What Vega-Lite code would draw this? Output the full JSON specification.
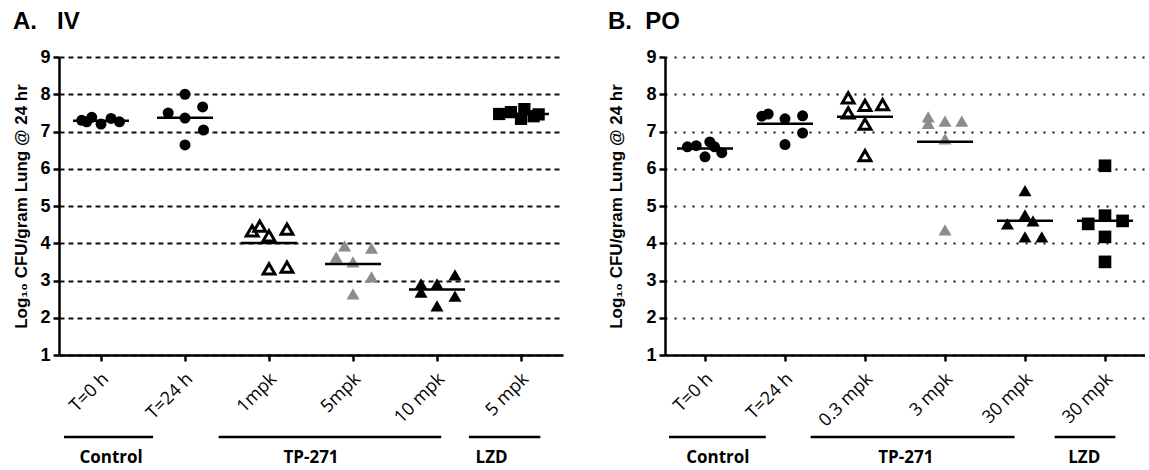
{
  "$schema": "https://vega.github.io/schema/vega-lite/v6.json",
  "background": "white",
  "padding": {"left": 12, "top": 10, "right": 0, "bottom": 0},
  "bounds": "flush",
  "spacing": 102,
  "datasets": {
    "iv": [
      {"cat": "Control|T=0 h", "slot": -1.15, "cfu": 7.3},
      {"cat": "Control|T=0 h", "slot": -0.85, "cfu": 7.26},
      {"cat": "Control|T=0 h", "slot": -0.55, "cfu": 7.38},
      {"cat": "Control|T=0 h", "slot": 0, "cfu": 7.2},
      {"cat": "Control|T=0 h", "slot": 0.6, "cfu": 7.35},
      {"cat": "Control|T=0 h", "slot": 1.1, "cfu": 7.26},
      {"cat": "Control|T=24 h", "slot": -1, "cfu": 7.5},
      {"cat": "Control|T=24 h", "slot": 0, "cfu": 8.0},
      {"cat": "Control|T=24 h", "slot": 0, "cfu": 7.36},
      {"cat": "Control|T=24 h", "slot": 1.05, "cfu": 7.66},
      {"cat": "Control|T=24 h", "slot": 1.1, "cfu": 7.04},
      {"cat": "Control|T=24 h", "slot": 0, "cfu": 6.64},
      {"cat": "TP-271|1mpk", "slot": -1, "cfu": 4.33},
      {"cat": "TP-271|1mpk", "slot": -0.55, "cfu": 4.46},
      {"cat": "TP-271|1mpk", "slot": 0, "cfu": 4.2},
      {"cat": "TP-271|1mpk", "slot": 1.07, "cfu": 4.38},
      {"cat": "TP-271|1mpk", "slot": 0, "cfu": 3.31},
      {"cat": "TP-271|1mpk", "slot": 1.07, "cfu": 3.36},
      {"cat": "TP-271|5mpk", "slot": -1, "cfu": 3.63},
      {"cat": "TP-271|5mpk", "slot": -0.5, "cfu": 3.93},
      {"cat": "TP-271|5mpk", "slot": 0, "cfu": 3.5},
      {"cat": "TP-271|5mpk", "slot": 1.1, "cfu": 3.87},
      {"cat": "TP-271|5mpk", "slot": 1.1, "cfu": 3.1},
      {"cat": "TP-271|5mpk", "slot": 0, "cfu": 2.64},
      {"cat": "TP-271|10 mpk", "slot": -0.95, "cfu": 2.91},
      {"cat": "TP-271|10 mpk", "slot": -0.95, "cfu": 2.69},
      {"cat": "TP-271|10 mpk", "slot": 0, "cfu": 2.91},
      {"cat": "TP-271|10 mpk", "slot": 1.07, "cfu": 3.15},
      {"cat": "TP-271|10 mpk", "slot": 1.07, "cfu": 2.58},
      {"cat": "TP-271|10 mpk", "slot": 0, "cfu": 2.32},
      {"cat": "LZD|5 mpk", "slot": -1.3, "cfu": 7.47},
      {"cat": "LZD|5 mpk", "slot": -0.6, "cfu": 7.52},
      {"cat": "LZD|5 mpk", "slot": 0.2, "cfu": 7.6},
      {"cat": "LZD|5 mpk", "slot": 0, "cfu": 7.34},
      {"cat": "LZD|5 mpk", "slot": 0.75, "cfu": 7.41},
      {"cat": "LZD|5 mpk", "slot": 1.05, "cfu": 7.46}
    ],
    "po": [
      {"cat": "Control|T=0 h", "slot": -1.1, "cfu": 6.59},
      {"cat": "Control|T=0 h", "slot": -0.55, "cfu": 6.62},
      {"cat": "Control|T=0 h", "slot": 0, "cfu": 6.32},
      {"cat": "Control|T=0 h", "slot": 0.3, "cfu": 6.72},
      {"cat": "Control|T=0 h", "slot": 0.6, "cfu": 6.59},
      {"cat": "Control|T=0 h", "slot": 1.05, "cfu": 6.43},
      {"cat": "Control|T=24 h", "slot": -1.45, "cfu": 7.41},
      {"cat": "Control|T=24 h", "slot": -1.05, "cfu": 7.47},
      {"cat": "Control|T=24 h", "slot": 0, "cfu": 7.34},
      {"cat": "Control|T=24 h", "slot": 1.1, "cfu": 7.42},
      {"cat": "Control|T=24 h", "slot": 1.1, "cfu": 6.96},
      {"cat": "Control|T=24 h", "slot": 0, "cfu": 6.65},
      {"cat": "TP-271|0.3 mpk", "slot": -1.05, "cfu": 7.9},
      {"cat": "TP-271|0.3 mpk", "slot": -1.05, "cfu": 7.5},
      {"cat": "TP-271|0.3 mpk", "slot": 0, "cfu": 7.7},
      {"cat": "TP-271|0.3 mpk", "slot": 1.1, "cfu": 7.72},
      {"cat": "TP-271|0.3 mpk", "slot": 0, "cfu": 7.2},
      {"cat": "TP-271|0.3 mpk", "slot": 0, "cfu": 6.35},
      {"cat": "TP-271|3 mpk", "slot": -1.05, "cfu": 7.39},
      {"cat": "TP-271|3 mpk", "slot": -1.05, "cfu": 7.22},
      {"cat": "TP-271|3 mpk", "slot": 0, "cfu": 7.28},
      {"cat": "TP-271|3 mpk", "slot": 1.05, "cfu": 7.28},
      {"cat": "TP-271|3 mpk", "slot": 0, "cfu": 6.8},
      {"cat": "TP-271|3 mpk", "slot": 0, "cfu": 4.36},
      {"cat": "TP-271|30 mpk", "slot": -1.1, "cfu": 4.52},
      {"cat": "TP-271|30 mpk", "slot": 0, "cfu": 5.41},
      {"cat": "TP-271|30 mpk", "slot": 0, "cfu": 4.76},
      {"cat": "TP-271|30 mpk", "slot": 0.5, "cfu": 4.6},
      {"cat": "TP-271|30 mpk", "slot": 0, "cfu": 4.17},
      {"cat": "TP-271|30 mpk", "slot": 1.05, "cfu": 4.17},
      {"cat": "LZD|30 mpk", "slot": 0, "cfu": 6.08},
      {"cat": "LZD|30 mpk", "slot": -1.05, "cfu": 4.52},
      {"cat": "LZD|30 mpk", "slot": 0, "cfu": 4.74},
      {"cat": "LZD|30 mpk", "slot": 1.1, "cfu": 4.6},
      {"cat": "LZD|30 mpk", "slot": 0, "cfu": 4.17},
      {"cat": "LZD|30 mpk", "slot": 0, "cfu": 3.5}
    ],
    "ivBr": [
      {"label": "Control", "start": 0.06, "end": 1.12, "mid": 0.62},
      {"label": "TP-271", "start": 1.9, "end": 4.55, "mid": 3.0},
      {"label": "LZD", "start": 4.88, "end": 5.73, "mid": 5.15}
    ],
    "poBr": [
      {"label": "Control", "start": 0.05, "end": 1.26, "mid": 0.66},
      {"label": "TP-271", "start": 1.82, "end": 4.37, "mid": 3.01},
      {"label": "LZD", "start": 4.87, "end": 5.63, "mid": 5.24}
    ]
  },
  "config": {
    "view": {"stroke": null},
    "font": "Liberation Sans",
    "title": {"font": "Liberation Sans", "fontSize": 24, "fontWeight": "bold", "color": "black"},
    "axis": {"domainColor": "black", "domainWidth": 2.5, "tickColor": "black", "tickWidth": 2.5, "tickSize": 6, "labelColor": "black", "titleColor": "black"},
    "axisY": {"labelFontSize": 18, "labelFontWeight": "bold", "labelFont": "Liberation Sans", "labelPadding": 3, "labelOverlap": false, "tickCount": 9, "titleFontSize": 17, "titleFontWeight": "bold", "titleFont": "Liberation Sans", "titlePadding": 9, "grid": true, "gridColor": "#111111", "gridWidth": 2, "gridOpacity": 1},
    "axisX": {"labelFont": "Open Sans", "labelFontSize": 18, "labelAngle": -45, "labelAlign": "right", "labelBaseline": "middle", "labelPadding": 15, "labelOffset": 5, "labelOverlap": false, "grid": false}
  },
  "hconcat": [
    {
      "width": 504,
      "height": 298,
      "title": {"text": "A.\u00a0\u00a0\u00a0IV", "anchor": "start", "frame": "bounds", "offset": 14},
      "resolve": {"scale": {"x": "independent", "xOffset": "independent"}},
      "layer": [
        {
          "data": {"name": "iv"},
          "transform": [{"filter": {"field": "cat", "oneOf": ["Control|T=0 h", "Control|T=24 h"]}}],
          "mark": {"type": "point", "shape": "circle", "filled": true, "size": 121, "color": "black", "opacity": 1},
          "encoding": {
            "x": {"field": "cat", "type": "nominal", "sort": null, "title": null, "scale": {"type": "band", "domain": ["Control|T=0 h", "Control|T=24 h", "TP-271|1mpk", "TP-271|5mpk", "TP-271|10 mpk", "LZD|5 mpk"], "paddingInner": 0, "paddingOuter": 0}, "axis": {"labelExpr": "split(datum.label, '|')[1]"}},
            "xOffset": {"field": "slot", "type": "quantitative", "scale": {"domain": [-2.5, 2.5]}},
            "y": {"field": "cfu", "type": "quantitative", "title": "Log₁₀ CFU/gram Lung @ 24 hr", "scale": {"domain": [1, 9], "nice": false, "zero": false}, "axis": {"values": [1, 2, 3, 4, 5, 6, 7, 8, 9], "gridDash": [5, 4]}}
          }
        },
        {
          "data": {"name": "iv"},
          "transform": [{"filter": {"field": "cat", "oneOf": ["TP-271|1mpk"]}}],
          "mark": {"type": "point", "shape": "triangle-up", "filled": false, "fill": "white", "stroke": "black", "strokeWidth": 3, "size": 140, "opacity": 1},
          "encoding": {
            "x": {"field": "cat", "type": "nominal", "sort": null, "title": null, "scale": {"type": "band", "domain": ["Control|T=0 h", "Control|T=24 h", "TP-271|1mpk", "TP-271|5mpk", "TP-271|10 mpk", "LZD|5 mpk"], "paddingInner": 0, "paddingOuter": 0}, "axis": null},
            "xOffset": {"field": "slot", "type": "quantitative", "scale": {"domain": [-2.5, 2.5]}},
            "y": {"field": "cfu", "type": "quantitative", "title": "Log₁₀ CFU/gram Lung @ 24 hr", "scale": {"domain": [1, 9], "nice": false, "zero": false}, "axis": {"values": [1, 2, 3, 4, 5, 6, 7, 8, 9], "gridDash": [5, 4]}}
          }
        },
        {
          "data": {"name": "iv"},
          "transform": [{"filter": {"field": "cat", "oneOf": ["TP-271|5mpk", "TP-271|10 mpk"]}}],
          "mark": {"type": "point", "shape": "triangle-up", "filled": true, "size": 170, "opacity": 1},
          "encoding": {
            "x": {"field": "cat", "type": "nominal", "sort": null, "title": null, "scale": {"type": "band", "domain": ["Control|T=0 h", "Control|T=24 h", "TP-271|1mpk", "TP-271|5mpk", "TP-271|10 mpk", "LZD|5 mpk"], "paddingInner": 0, "paddingOuter": 0}, "axis": null},
            "xOffset": {"field": "slot", "type": "quantitative", "scale": {"domain": [-2.5, 2.5]}},
            "y": {"field": "cfu", "type": "quantitative", "title": "Log₁₀ CFU/gram Lung @ 24 hr", "scale": {"domain": [1, 9], "nice": false, "zero": false}, "axis": {"values": [1, 2, 3, 4, 5, 6, 7, 8, 9], "gridDash": [5, 4]}},
            "fill": {"field": "cat", "type": "nominal", "legend": null, "scale": {"domain": ["TP-271|5mpk", "TP-271|10 mpk", "TP-271|3 mpk", "TP-271|30 mpk"], "range": ["#8c8c8c", "#000000", "#8c8c8c", "#000000"]}}
          }
        },
        {
          "data": {"name": "iv"},
          "transform": [{"filter": {"field": "cat", "oneOf": ["LZD|5 mpk"]}}],
          "mark": {"type": "point", "shape": "square", "filled": true, "size": 150, "color": "black", "opacity": 1},
          "encoding": {
            "x": {"field": "cat", "type": "nominal", "sort": null, "title": null, "scale": {"type": "band", "domain": ["Control|T=0 h", "Control|T=24 h", "TP-271|1mpk", "TP-271|5mpk", "TP-271|10 mpk", "LZD|5 mpk"], "paddingInner": 0, "paddingOuter": 0}, "axis": null},
            "xOffset": {"field": "slot", "type": "quantitative", "scale": {"domain": [-2.5, 2.5]}},
            "y": {"field": "cfu", "type": "quantitative", "title": "Log₁₀ CFU/gram Lung @ 24 hr", "scale": {"domain": [1, 9], "nice": false, "zero": false}, "axis": {"values": [1, 2, 3, 4, 5, 6, 7, 8, 9], "gridDash": [5, 4]}}
          }
        },
        {
          "data": {"name": "iv"},
          "mark": {"type": "tick", "thickness": 2.5, "size": 56, "color": "black", "opacity": 1},
          "encoding": {
            "x": {"field": "cat", "type": "nominal", "sort": null, "title": null, "scale": {"type": "band", "domain": ["Control|T=0 h", "Control|T=24 h", "TP-271|1mpk", "TP-271|5mpk", "TP-271|10 mpk", "LZD|5 mpk"], "paddingInner": 0, "paddingOuter": 0}, "axis": null},
            "y": {"aggregate": "mean", "field": "cfu", "type": "quantitative", "title": "Log₁₀ CFU/gram Lung @ 24 hr", "scale": {"domain": [1, 9], "nice": false, "zero": false}, "axis": {"values": [1, 2, 3, 4, 5, 6, 7, 8, 9], "gridDash": [5, 4]}}
          }
        },
        {
          "data": {"name": "ivBr"},
          "mark": {"type": "rule", "strokeWidth": 2.5, "color": "black"},
          "encoding": {
            "x": {"field": "start", "type": "quantitative", "scale": {"domain": [0, 6], "nice": false, "zero": false}, "axis": null},
            "x2": {"field": "end"},
            "y": {"datum": -1.2, "type": "quantitative", "title": "Log₁₀ CFU/gram Lung @ 24 hr", "scale": {"domain": [1, 9], "nice": false, "zero": false}, "axis": {"values": [1, 2, 3, 4, 5, 6, 7, 8, 9], "gridDash": [5, 4]}}
          }
        },
        {
          "data": {"name": "ivBr"},
          "mark": {"type": "text", "font": "Open Sans", "fontSize": 17, "fontWeight": "bold", "baseline": "alphabetic", "color": "black"},
          "encoding": {
            "x": {"field": "mid", "type": "quantitative", "scale": {"domain": [0, 6], "nice": false, "zero": false}, "axis": null},
            "y": {"datum": -1.9, "type": "quantitative", "title": "Log₁₀ CFU/gram Lung @ 24 hr", "scale": {"domain": [1, 9], "nice": false, "zero": false}, "axis": {"values": [1, 2, 3, 4, 5, 6, 7, 8, 9], "gridDash": [5, 4]}},
            "text": {"field": "label"}
          }
        }
      ]
    },
    {
      "width": 480,
      "height": 298,
      "title": {"text": "B.\u00a0\u00a0PO", "anchor": "start", "frame": "bounds", "offset": 14},
      "resolve": {"scale": {"x": "independent", "xOffset": "independent"}},
      "layer": [
        {
          "data": {"name": "po"},
          "transform": [{"filter": {"field": "cat", "oneOf": ["Control|T=0 h", "Control|T=24 h"]}}],
          "mark": {"type": "point", "shape": "circle", "filled": true, "size": 121, "color": "black", "opacity": 1},
          "encoding": {
            "x": {"field": "cat", "type": "nominal", "sort": null, "title": null, "scale": {"type": "band", "domain": ["Control|T=0 h", "Control|T=24 h", "TP-271|0.3 mpk", "TP-271|3 mpk", "TP-271|30 mpk", "LZD|30 mpk"], "paddingInner": 0, "paddingOuter": 0}, "axis": {"labelExpr": "split(datum.label, '|')[1]"}},
            "xOffset": {"field": "slot", "type": "quantitative", "scale": {"domain": [-2.5, 2.5]}},
            "y": {"field": "cfu", "type": "quantitative", "title": "Log₁₀ CFU/gram Lung @ 24 hr", "scale": {"domain": [1, 9], "nice": false, "zero": false}, "axis": {"values": [1, 2, 3, 4, 5, 6, 7, 8, 9], "gridDash": [2, 7], "titlePadding": 20}}
          }
        },
        {
          "data": {"name": "po"},
          "transform": [{"filter": {"field": "cat", "oneOf": ["TP-271|0.3 mpk"]}}],
          "mark": {"type": "point", "shape": "triangle-up", "filled": false, "fill": "white", "stroke": "black", "strokeWidth": 3, "size": 140, "opacity": 1},
          "encoding": {
            "x": {"field": "cat", "type": "nominal", "sort": null, "title": null, "scale": {"type": "band", "domain": ["Control|T=0 h", "Control|T=24 h", "TP-271|0.3 mpk", "TP-271|3 mpk", "TP-271|30 mpk", "LZD|30 mpk"], "paddingInner": 0, "paddingOuter": 0}, "axis": null},
            "xOffset": {"field": "slot", "type": "quantitative", "scale": {"domain": [-2.5, 2.5]}},
            "y": {"field": "cfu", "type": "quantitative", "title": "Log₁₀ CFU/gram Lung @ 24 hr", "scale": {"domain": [1, 9], "nice": false, "zero": false}, "axis": {"values": [1, 2, 3, 4, 5, 6, 7, 8, 9], "gridDash": [2, 7], "titlePadding": 20}}
          }
        },
        {
          "data": {"name": "po"},
          "transform": [{"filter": {"field": "cat", "oneOf": ["TP-271|3 mpk", "TP-271|30 mpk"]}}],
          "mark": {"type": "point", "shape": "triangle-up", "filled": true, "size": 170, "opacity": 1},
          "encoding": {
            "x": {"field": "cat", "type": "nominal", "sort": null, "title": null, "scale": {"type": "band", "domain": ["Control|T=0 h", "Control|T=24 h", "TP-271|0.3 mpk", "TP-271|3 mpk", "TP-271|30 mpk", "LZD|30 mpk"], "paddingInner": 0, "paddingOuter": 0}, "axis": null},
            "xOffset": {"field": "slot", "type": "quantitative", "scale": {"domain": [-2.5, 2.5]}},
            "y": {"field": "cfu", "type": "quantitative", "title": "Log₁₀ CFU/gram Lung @ 24 hr", "scale": {"domain": [1, 9], "nice": false, "zero": false}, "axis": {"values": [1, 2, 3, 4, 5, 6, 7, 8, 9], "gridDash": [2, 7], "titlePadding": 20}},
            "fill": {"field": "cat", "type": "nominal", "legend": null, "scale": {"domain": ["TP-271|5mpk", "TP-271|10 mpk", "TP-271|3 mpk", "TP-271|30 mpk"], "range": ["#8c8c8c", "#000000", "#8c8c8c", "#000000"]}}
          }
        },
        {
          "data": {"name": "po"},
          "transform": [{"filter": {"field": "cat", "oneOf": ["LZD|30 mpk"]}}],
          "mark": {"type": "point", "shape": "square", "filled": true, "size": 160, "color": "black", "opacity": 1},
          "encoding": {
            "x": {"field": "cat", "type": "nominal", "sort": null, "title": null, "scale": {"type": "band", "domain": ["Control|T=0 h", "Control|T=24 h", "TP-271|0.3 mpk", "TP-271|3 mpk", "TP-271|30 mpk", "LZD|30 mpk"], "paddingInner": 0, "paddingOuter": 0}, "axis": null},
            "xOffset": {"field": "slot", "type": "quantitative", "scale": {"domain": [-2.5, 2.5]}},
            "y": {"field": "cfu", "type": "quantitative", "title": "Log₁₀ CFU/gram Lung @ 24 hr", "scale": {"domain": [1, 9], "nice": false, "zero": false}, "axis": {"values": [1, 2, 3, 4, 5, 6, 7, 8, 9], "gridDash": [2, 7], "titlePadding": 20}}
          }
        },
        {
          "data": {"name": "po"},
          "mark": {"type": "tick", "thickness": 2.5, "size": 56, "color": "black", "opacity": 1},
          "encoding": {
            "x": {"field": "cat", "type": "nominal", "sort": null, "title": null, "scale": {"type": "band", "domain": ["Control|T=0 h", "Control|T=24 h", "TP-271|0.3 mpk", "TP-271|3 mpk", "TP-271|30 mpk", "LZD|30 mpk"], "paddingInner": 0, "paddingOuter": 0}, "axis": null},
            "y": {"aggregate": "mean", "field": "cfu", "type": "quantitative", "title": "Log₁₀ CFU/gram Lung @ 24 hr", "scale": {"domain": [1, 9], "nice": false, "zero": false}, "axis": {"values": [1, 2, 3, 4, 5, 6, 7, 8, 9], "gridDash": [2, 7], "titlePadding": 20}}
          }
        },
        {
          "data": {"name": "poBr"},
          "mark": {"type": "rule", "strokeWidth": 2.5, "color": "black"},
          "encoding": {
            "x": {"field": "start", "type": "quantitative", "scale": {"domain": [0, 6], "nice": false, "zero": false}, "axis": null},
            "x2": {"field": "end"},
            "y": {"datum": -1.2, "type": "quantitative", "title": "Log₁₀ CFU/gram Lung @ 24 hr", "scale": {"domain": [1, 9], "nice": false, "zero": false}, "axis": {"values": [1, 2, 3, 4, 5, 6, 7, 8, 9], "gridDash": [2, 7], "titlePadding": 20}}
          }
        },
        {
          "data": {"name": "poBr"},
          "mark": {"type": "text", "font": "Open Sans", "fontSize": 17, "fontWeight": "bold", "baseline": "alphabetic", "color": "black"},
          "encoding": {
            "x": {"field": "mid", "type": "quantitative", "scale": {"domain": [0, 6], "nice": false, "zero": false}, "axis": null},
            "y": {"datum": -1.9, "type": "quantitative", "title": "Log₁₀ CFU/gram Lung @ 24 hr", "scale": {"domain": [1, 9], "nice": false, "zero": false}, "axis": {"values": [1, 2, 3, 4, 5, 6, 7, 8, 9], "gridDash": [2, 7], "titlePadding": 20}},
            "text": {"field": "label"}
          }
        }
      ]
    }
  ]
}
